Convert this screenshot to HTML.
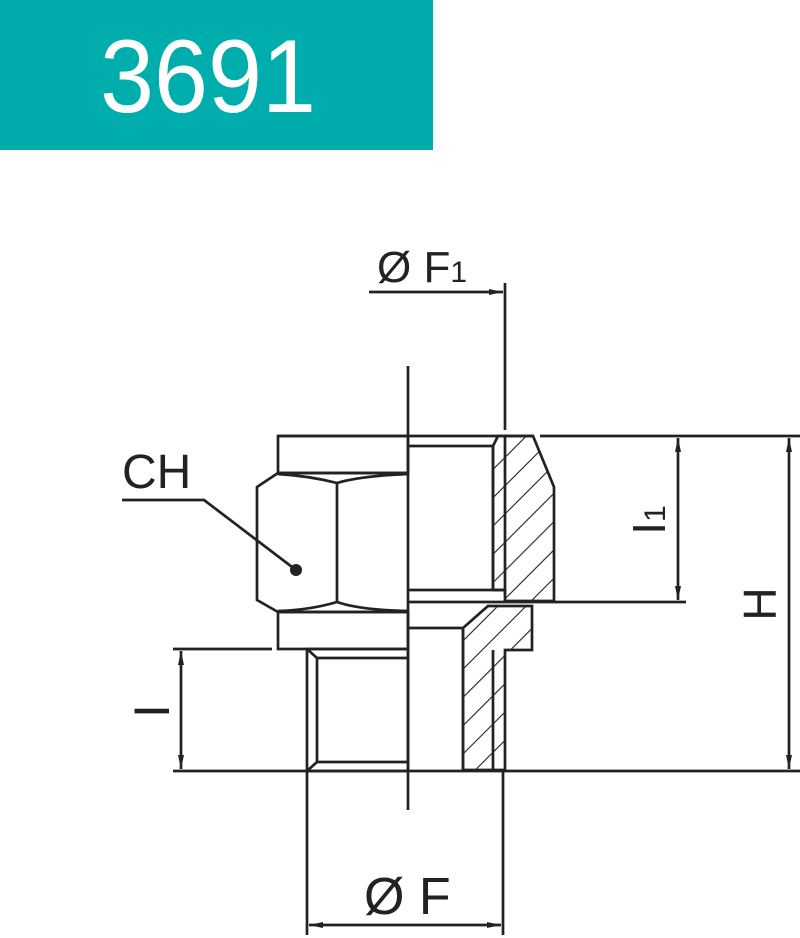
<!DOCTYPE html>
<html><head><meta charset="utf-8"><style>html,body{margin:0;padding:0;background:#fff}svg{display:block}</style></head>
<body>
<svg width="800" height="938" viewBox="0 0 800 938" xmlns="http://www.w3.org/2000/svg" font-family="Liberation Sans, sans-serif">
<defs>
<pattern id="h" patternUnits="userSpaceOnUse" width="20" height="20" patternTransform="rotate(45)">
<line x1="0" y1="0" x2="0" y2="20" stroke="#222" stroke-width="2.2"/>
</pattern>
<marker id="a" viewBox="0 0 14 8" refX="14" refY="4" markerWidth="14" markerHeight="8" orient="auto-start-reverse" markerUnits="userSpaceOnUse"><path d="M0,1 L14,4 L0,7 Z" fill="#222"/></marker>
</defs>
<rect x="0" y="0" width="433" height="150" fill="#00ADAD"/>
<text x="100" y="112" font-size="104" fill="#fff" textLength="216" lengthAdjust="spacingAndGlyphs">3691</text>

<g stroke="#222" stroke-width="2.7" fill="none">
<polygon points="493,446 498,436 533,436 554,487 554,601 505,601 505,590 493,590" fill="url(#h)"/>
<polygon points="463,628 488,606 532,606 532,650 505,650 505,770 463,770" fill="url(#h)"/>
<line x1="408" y1="366" x2="408" y2="810"/>
<line x1="278" y1="436" x2="533" y2="436"/>
<line x1="540" y1="436" x2="800" y2="436"/>
<rect x="278" y="436" width="130" height="37"/>
<polyline points="278,473 257,487 257,600 278,612"/>
<line x1="278" y1="473" x2="408" y2="473"/>
<line x1="278" y1="612" x2="408" y2="612"/>
<line x1="337" y1="483" x2="337" y2="602"/>
<path d="M278,474 Q310,476 337,483 Q360,476 408,474"/>
<path d="M278,611 Q310,610 337,602 Q360,610 408,611"/>
<rect x="278" y="612" width="130" height="37"/>
<rect x="307" y="649" width="101" height="122"/>
<line x1="317" y1="658" x2="317" y2="762"/>
<line x1="317" y1="658" x2="408" y2="658"/>
<line x1="317" y1="762" x2="408" y2="762"/>
<line x1="307" y1="649" x2="317" y2="658"/>
<line x1="307" y1="771" x2="317" y2="762"/>
<line x1="408" y1="446" x2="493" y2="446"/>
<line x1="493" y1="446" x2="493" y2="590"/>
<line x1="408" y1="590" x2="505" y2="590"/>
<line x1="505" y1="436" x2="505" y2="595"/>
<line x1="408" y1="602" x2="686" y2="602"/>
<line x1="408" y1="628" x2="463" y2="628"/>
<line x1="463" y1="628" x2="463" y2="771"/>
<line x1="493" y1="650" x2="493" y2="771"/>
<line x1="173" y1="771" x2="307" y2="771"/>
<line x1="307" y1="771" x2="505" y2="771"/>
<line x1="505" y1="771" x2="800" y2="771"/>
<line x1="173" y1="649" x2="272" y2="649"/>
<line x1="181" y1="651" x2="181" y2="769" marker-start="url(#a)" marker-end="url(#a)"/>
<line x1="369" y1="292" x2="503" y2="292" marker-end="url(#a)"/>
<line x1="505" y1="283" x2="505" y2="430"/>
<line x1="307" y1="771" x2="307" y2="935"/>
<line x1="503" y1="771" x2="503" y2="935"/>
<line x1="309" y1="925" x2="501" y2="925" marker-start="url(#a)" marker-end="url(#a)"/>
<line x1="678" y1="438" x2="678" y2="600" marker-start="url(#a)" marker-end="url(#a)"/>
<line x1="789" y1="438" x2="789" y2="769" marker-start="url(#a)" marker-end="url(#a)"/>
<polyline points="122,500 204,500 296,570"/>
</g>
<circle cx="296" cy="570" r="6" fill="#222"/>
<g fill="#222">
<text x="122" y="488" font-size="48">CH</text>
<text x="377" y="282" font-size="44">Ø F<tspan font-size="30">1</tspan></text>
<text x="364" y="914" font-size="52">Ø F</text>
<text transform="translate(169,711) rotate(-90)" font-size="50" text-anchor="middle">I</text>
<text transform="translate(665,520) rotate(-90)" font-size="46" text-anchor="middle">I<tspan font-size="30">1</tspan></text>
<text transform="translate(776,604) rotate(-90)" font-size="46" text-anchor="middle">H</text>
</g>
</svg>
</body></html>
